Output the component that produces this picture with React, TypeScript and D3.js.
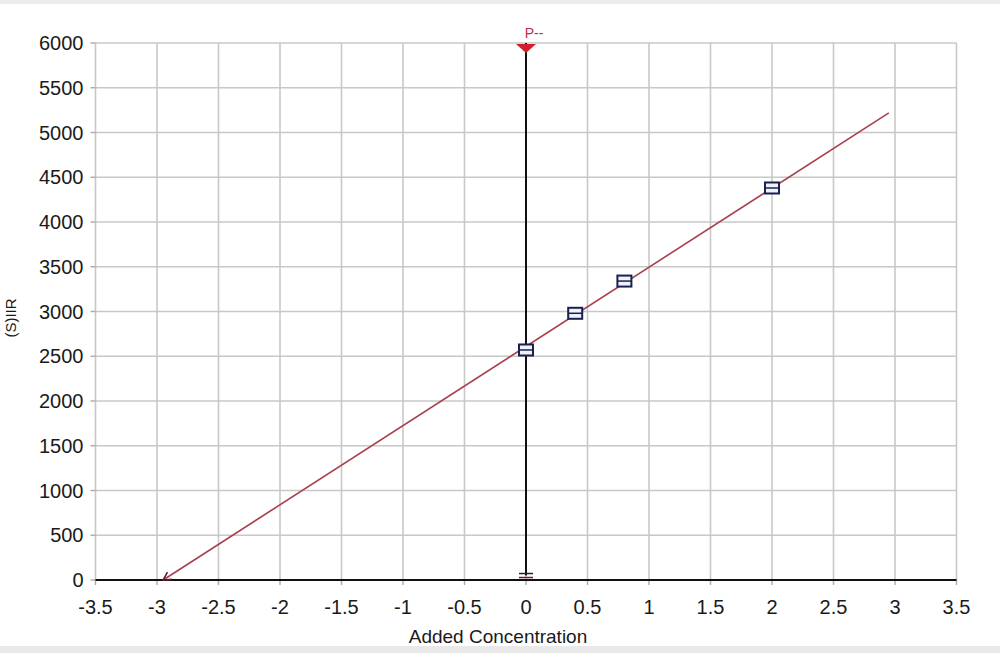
import React from "react";
import * as d3 from "d3";

const xTicks = [-3.5, -3, -2.5, -2, -1.5, -1, -0.5, 0, 0.5, 1, 1.5, 2, 2.5, 3, 3.5];
const yTicks = [0, 500, 1000, 1500, 2000, 2500, 3000, 3500, 4000, 4500, 5000, 5500, 6000];
const pointX = [0, 0.4, 0.8, 2];
const pointY = [2570, 2980, 3340, 4380];
const fitX = [-2.95, 2.95];
const fitY = [0, 5220];
const markerX = 0;
const markerY = [50, 6000];
const markerLabel = "P--";

const W = 1000;
const H = 653;
const left = 95.5;
const right = 956.5;
const top = 43;
const bottom = 580;

export default function App() {
  const x = d3.scaleLinear().domain([-3.5, 3.5]).range([left, right]);
  const y = d3.scaleLinear().domain([0, 6000]).range([bottom, top]);
  const line = d3
    .line<number>()
    .x((d, i) => x(fitX[i]))
    .y((d) => y(d));
  const font = "'Liberation Sans', Arial, sans-serif";
  const fx0 = x(fitX[0]);
  const fy0 = y(fitY[0]);
  const ang = Math.atan2(y(fitY[1]) - fy0, x(fitX[1]) - fx0);
  const ah = 9;
  const mx = x(markerX);
  return (
    <div style={{ position: "absolute", left: 0, top: 0 }}>
      <svg width={W} height={H} style={{ display: "block", background: "#fff" }}>
        <rect x={0} y={0} width={W} height={4} fill="#ececec" />
        <rect x={0} y={646} width={W} height={7} fill="#e9e9e9" />
        {/* grid */}
        {xTicks.map((t) => (
          <line key={"gx" + t} x1={x(t)} x2={x(t)} y1={top} y2={bottom} stroke="#c8c8c8" strokeWidth={1.6} />
        ))}
        {yTicks.map((t) => (
          <line key={"gy" + t} x1={left} x2={right} y1={y(t)} y2={y(t)} stroke="#c8c8c8" strokeWidth={1.6} />
        ))}
        {/* ticks */}
        {xTicks.map((t) => (
          <line key={"tx" + t} x1={x(t)} x2={x(t)} y1={bottom} y2={bottom + 5} stroke="#aaa" strokeWidth={1.4} />
        ))}
        {yTicks.map((t) => (
          <line key={"ty" + t} x1={left - 5} x2={left} y1={y(t)} y2={y(t)} stroke="#aaa" strokeWidth={1.4} />
        ))}
        {/* bottom axis */}
        <line x1={left} x2={right} y1={bottom} y2={bottom} stroke="#111" strokeWidth={2} />
        {/* tick labels */}
        {xTicks.map((t) => (
          <text key={"lx" + t} x={x(t)} y={bottom + 34} textAnchor="middle" fontFamily={font} fontSize={20} fill="#1a1a1a">
            {String(t)}
          </text>
        ))}
        {yTicks.map((t) => (
          <text key={"ly" + t} x={left - 12} y={y(t) + 7.2} textAnchor="end" fontFamily={font} fontSize={20} fill="#1a1a1a">
            {String(t)}
          </text>
        ))}
        <text x={498} y={643} textAnchor="middle" fontFamily={font} fontSize={19} fill="#1a1a1a">
          Added Concentration
        </text>
        <text
          x={0}
          y={0}
          transform={`translate(16,318) rotate(-90)`}
          textAnchor="middle"
          fontFamily={font}
          fontSize={15}
          fill="#1a1a1a"
        >
          (S)IIR
        </text>
        {/* vertical marker line */}
        <line x1={mx} x2={mx} y1={y(markerY[0])} y2={y(markerY[1])} stroke="#111" strokeWidth={2} />
        <path d={`M${mx - 10},${y(markerY[1]) + 1} L${mx + 10},${y(markerY[1]) + 1} L${mx},${y(markerY[1]) + 10} Z`} fill="#d0202e" />
        <text x={mx + 8} y={y(markerY[1]) - 5} textAnchor="middle" fontFamily={font} fontSize={14} fill="#c0303e">
          {markerLabel}
        </text>
        <line x1={mx - 7} x2={mx + 7} y1={y(markerY[0]) - 2} y2={y(markerY[0]) - 2} stroke="#222" strokeWidth={1.5} />
        <line x1={mx - 7} x2={mx + 7} y1={y(markerY[0]) + 2} y2={y(markerY[0]) + 2} stroke="#6a1a20" strokeWidth={1.5} />
        {/* fit line */}
        <path d={line(fitY) || ""} fill="none" stroke="#a8404f" strokeWidth={1.6} />
        <path
          d={`M${fx0 + ah * Math.cos(ang - 0.5)},${fy0 + ah * Math.sin(ang - 0.5)} L${fx0},${fy0} L${fx0 + ah * Math.cos(ang + 0.5)},${fy0 + ah * Math.sin(ang + 0.5)}`}
          fill="none"
          stroke="#5a2030"
          strokeWidth={1.6}
        />
        {/* points */}
        {pointX.map((px, i) => {
          const cx = x(px);
          const cy = y(pointY[i]);
          return (
            <g key={"p" + i}>
              <rect x={cx - 7} y={cy - 5.5} width={14} height={11} fill="#eef2fa" stroke="#1a2050" strokeWidth={2} />
              <line x1={cx - 7} x2={cx + 7} y1={cy} y2={cy} stroke="#1a2050" strokeWidth={1.5} />
            </g>
          );
        })}
      </svg>
    </div>
  );
}
